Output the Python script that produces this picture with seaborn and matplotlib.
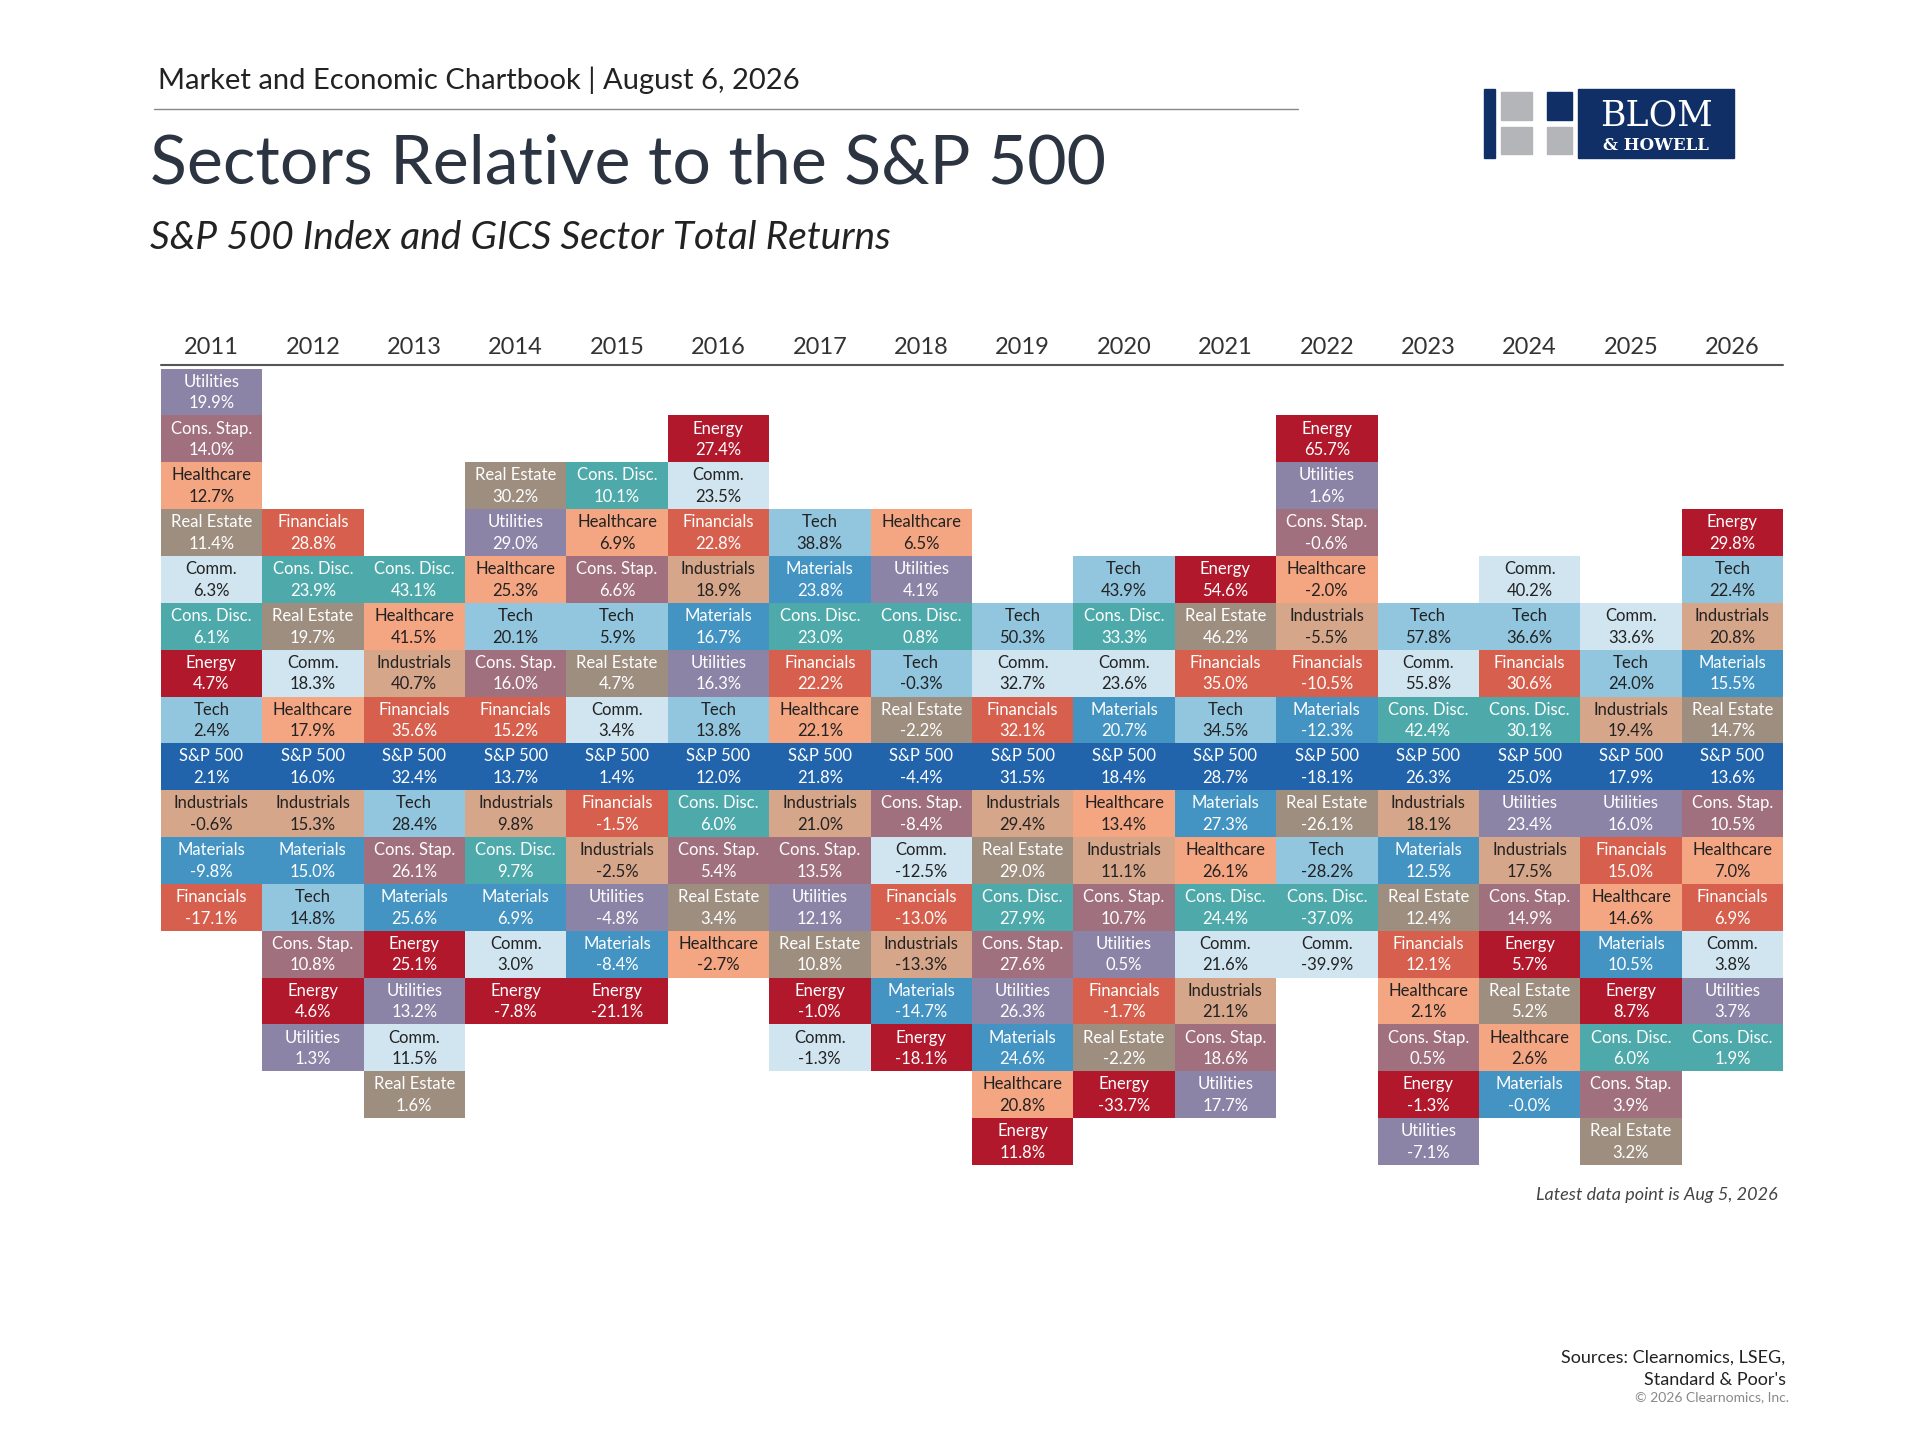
import matplotlib
matplotlib.use("Agg")
import matplotlib.pyplot as plt
import seaborn as sns
from matplotlib.patches import Rectangle

sns.set_theme(style="white")
plt.rcParams['font.family'] = ['Lato', 'DejaVu Sans']

years = [str(y) for y in range(2011, 2027)]

col_2011 = [("Utilities", 19.9), ("Cons. Stap.", 14.0), ("Healthcare", 12.7), ("Real Estate", 11.4), ("Comm.", 6.3), ("Cons. Disc.", 6.1), ("Energy", 4.7), ("Tech", 2.4), ("S&P 500", 2.1), ("Industrials", -0.6), ("Materials", -9.8), ("Financials", -17.1)]
col_2012 = [("Financials", 28.8), ("Cons. Disc.", 23.9), ("Real Estate", 19.7), ("Comm.", 18.3), ("Healthcare", 17.9), ("S&P 500", 16.0), ("Industrials", 15.3), ("Materials", 15.0), ("Tech", 14.8), ("Cons. Stap.", 10.8), ("Energy", 4.6), ("Utilities", 1.3)]
col_2013 = [("Cons. Disc.", 43.1), ("Healthcare", 41.5), ("Industrials", 40.7), ("Financials", 35.6), ("S&P 500", 32.4), ("Tech", 28.4), ("Cons. Stap.", 26.1), ("Materials", 25.6), ("Energy", 25.1), ("Utilities", 13.2), ("Comm.", 11.5), ("Real Estate", 1.6)]
col_2014 = [("Real Estate", 30.2), ("Utilities", 29.0), ("Healthcare", 25.3), ("Tech", 20.1), ("Cons. Stap.", 16.0), ("Financials", 15.2), ("S&P 500", 13.7), ("Industrials", 9.8), ("Cons. Disc.", 9.7), ("Materials", 6.9), ("Comm.", 3.0), ("Energy", -7.8)]
col_2015 = [("Cons. Disc.", 10.1), ("Healthcare", 6.9), ("Cons. Stap.", 6.6), ("Tech", 5.9), ("Real Estate", 4.7), ("Comm.", 3.4), ("S&P 500", 1.4), ("Financials", -1.5), ("Industrials", -2.5), ("Utilities", -4.8), ("Materials", -8.4), ("Energy", -21.1)]
col_2016 = [("Energy", 27.4), ("Comm.", 23.5), ("Financials", 22.8), ("Industrials", 18.9), ("Materials", 16.7), ("Utilities", 16.3), ("Tech", 13.8), ("S&P 500", 12.0), ("Cons. Disc.", 6.0), ("Cons. Stap.", 5.4), ("Real Estate", 3.4), ("Healthcare", -2.7)]
col_2017 = [("Tech", 38.8), ("Materials", 23.8), ("Cons. Disc.", 23.0), ("Financials", 22.2), ("Healthcare", 22.1), ("S&P 500", 21.8), ("Industrials", 21.0), ("Cons. Stap.", 13.5), ("Utilities", 12.1), ("Real Estate", 10.8), ("Energy", -1.0), ("Comm.", -1.3)]
col_2018 = [("Healthcare", 6.5), ("Utilities", 4.1), ("Cons. Disc.", 0.8), ("Tech", -0.3), ("Real Estate", -2.2), ("S&P 500", -4.4), ("Cons. Stap.", -8.4), ("Comm.", -12.5), ("Financials", -13.0), ("Industrials", -13.3), ("Materials", -14.7), ("Energy", -18.1)]
col_2019 = [("Tech", 50.3), ("Comm.", 32.7), ("Financials", 32.1), ("S&P 500", 31.5), ("Industrials", 29.4), ("Real Estate", 29.0), ("Cons. Disc.", 27.9), ("Cons. Stap.", 27.6), ("Utilities", 26.3), ("Materials", 24.6), ("Healthcare", 20.8), ("Energy", 11.8)]
col_2020 = [("Tech", 43.9), ("Cons. Disc.", 33.3), ("Comm.", 23.6), ("Materials", 20.7), ("S&P 500", 18.4), ("Healthcare", 13.4), ("Industrials", 11.1), ("Cons. Stap.", 10.7), ("Utilities", 0.5), ("Financials", -1.7), ("Real Estate", -2.2), ("Energy", -33.7)]
col_2021 = [("Energy", 54.6), ("Real Estate", 46.2), ("Financials", 35.0), ("Tech", 34.5), ("S&P 500", 28.7), ("Materials", 27.3), ("Healthcare", 26.1), ("Cons. Disc.", 24.4), ("Comm.", 21.6), ("Industrials", 21.1), ("Cons. Stap.", 18.6), ("Utilities", 17.7)]
col_2022 = [("Energy", 65.7), ("Utilities", 1.6), ("Cons. Stap.", -0.6), ("Healthcare", -2.0), ("Industrials", -5.5), ("Financials", -10.5), ("Materials", -12.3), ("S&P 500", -18.1), ("Real Estate", -26.1), ("Tech", -28.2), ("Cons. Disc.", -37.0), ("Comm.", -39.9)]
col_2023 = [("Tech", 57.8), ("Comm.", 55.8), ("Cons. Disc.", 42.4), ("S&P 500", 26.3), ("Industrials", 18.1), ("Materials", 12.5), ("Real Estate", 12.4), ("Financials", 12.1), ("Healthcare", 2.1), ("Cons. Stap.", 0.5), ("Energy", -1.3), ("Utilities", -7.1)]
col_2024 = [("Comm.", 40.2), ("Tech", 36.6), ("Financials", 30.6), ("Cons. Disc.", 30.1), ("S&P 500", 25.0), ("Utilities", 23.4), ("Industrials", 17.5), ("Cons. Stap.", 14.9), ("Energy", 5.7), ("Real Estate", 5.2), ("Healthcare", 2.6), ("Materials", -0.0)]
col_2025 = [("Comm.", 33.6), ("Tech", 24.0), ("Industrials", 19.4), ("S&P 500", 17.9), ("Utilities", 16.0), ("Financials", 15.0), ("Healthcare", 14.6), ("Materials", 10.5), ("Energy", 8.7), ("Cons. Disc.", 6.0), ("Cons. Stap.", 3.9), ("Real Estate", 3.2)]
col_2026 = [("Energy", 29.8), ("Tech", 22.4), ("Industrials", 20.8), ("Materials", 15.5), ("Real Estate", 14.7), ("S&P 500", 13.6), ("Cons. Stap.", 10.5), ("Healthcare", 7.0), ("Financials", 6.9), ("Comm.", 3.8), ("Utilities", 3.7), ("Cons. Disc.", 1.9)]

columns = [col_2011, col_2012, col_2013, col_2014, col_2015, col_2016, col_2017, col_2018,
           col_2019, col_2020, col_2021, col_2022, col_2023, col_2024, col_2025, col_2026]

sector_colors = {
    "Utilities": "#8b84a6", "Cons. Stap.": "#a0707f", "Healthcare": "#f4a582",
    "Real Estate": "#9e8e80", "Comm.": "#d1e5f0", "Cons. Disc.": "#4eaaaa",
    "Energy": "#b2182b", "Tech": "#92c5de", "S&P 500": "#2164ab",
    "Industrials": "#d6a68a", "Materials": "#4393c3", "Financials": "#d6604d",
}
dark_text = {"Healthcare", "Comm.", "Industrials", "Tech"}
SP_ROW = 8
NROWS = 17

fig = plt.figure(figsize=(19.2, 14.4), dpi=100)
ax = fig.add_axes([0.0837, 0.191, 0.845, 0.553])

for i, col in enumerate(columns):
    names = [c[0] for c in col]
    start = SP_ROW - names.index("S&P 500")
    for j, (name, val) in enumerate(col):
        r = start + j
        ax.bar(i, 1, bottom=r, width=1, color=sector_colors[name], linewidth=0, align="center")
        tc = "#222222" if name in dark_text else "white"
        ax.text(i, r + 0.28, name, ha="center", va="center", fontsize=12, color=tc)
        ax.text(i, r + 0.74, f"{val:.1f}%", ha="center", va="center", fontsize=12, color=tc)

ax.set_xlim(-0.5, len(columns) - 0.5)
ax.set_ylim(NROWS, 0)
ax.axis("off")

# year header
for i, y in enumerate(years):
    ax.text(i, -0.45, y, ha="center", va="center", fontsize=17, color="#333333")
ax.plot([-0.5, len(columns) - 0.5], [-0.07, -0.07], color="#555555", lw=1.5, clip_on=False)

# titles
fig.text(0.0824, 0.944, "Market and Economic Chartbook | August 6, 2026", fontsize=21, color="#222222", va="center")
fig.add_artist(plt.Line2D([0.08, 0.676], [0.924, 0.924], color="#888888", lw=1))
fig.text(0.078, 0.886, "Sectors Relative to the S&P 500", fontsize=49, color="#2b3440", va="center")
fig.text(0.078, 0.835, "S&P 500 Index and GICS Sector Total Returns", fontsize=28, style="italic", color="#222222", va="center")

# logo
navy = "#0f2f66"
grey = "#b3b5b8"
x0 = 0.773
fig.add_artist(Rectangle((x0, 0.890), 0.0055, 0.048, transform=fig.transFigure, color=navy))
fig.add_artist(Rectangle((x0 + 0.009, 0.917), 0.016, 0.019, transform=fig.transFigure, color=grey))
fig.add_artist(Rectangle((x0 + 0.009, 0.893), 0.016, 0.019, transform=fig.transFigure, color=grey))
fig.add_artist(Rectangle((x0 + 0.0325, 0.917), 0.013, 0.019, transform=fig.transFigure, color=navy))
fig.add_artist(Rectangle((x0 + 0.0325, 0.893), 0.013, 0.019, transform=fig.transFigure, color=grey))
fig.add_artist(Rectangle((x0 + 0.049, 0.890), 0.081, 0.048, transform=fig.transFigure, color=navy))
fig.text(x0 + 0.0895, 0.920, "BLOM", fontsize=25, family="DejaVu Serif", color="white", ha="center", va="center")
fig.text(x0 + 0.0895, 0.899, "& HOWELL", fontsize=12, family="DejaVu Serif", weight="bold", color="white", ha="center", va="center")

# footnotes
fig.text(0.926, 0.170, "Latest data point is Aug 5, 2026", fontsize=13, style="italic", color="#444444", ha="right", va="center")
fig.text(0.930, 0.0495, "Sources: Clearnomics, LSEG,", fontsize=13, color="#222222", ha="right", va="center")
fig.text(0.930, 0.0340, "Standard & Poor's", fontsize=13, color="#222222", ha="right", va="center")
fig.text(0.932, 0.0215, "© 2026 Clearnomics, Inc.", fontsize=10, color="#888888", ha="right", va="center")
fig.texts[-3].set_y(0.0575)
fig.texts[-2].set_y(0.0415)
fig.texts[-1].set_y(0.0295)

fig.savefig("out.png", dpi=100, facecolor="white")
